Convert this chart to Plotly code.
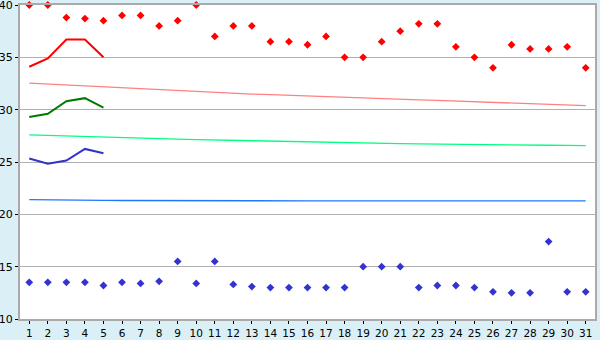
import plotly.graph_objects as go

days = list(range(1, 32))

record_high = [40, 40, 38.8, 38.7, 38.5, 39.0, 39.0, 38.0, 38.5, 40, 37.0, 38.0, 38.0, 36.5, 36.5, 36.2,
               37.0, 35.0, 35.0, 36.5, 37.5, 38.2, 38.2, 36.0, 35.0, 34.0, 36.2, 35.8, 35.8, 36.0, 34.0]
record_low = [13.5, 13.5, 13.5, 13.5, 13.2, 13.5, 13.4, 13.6, 15.5, 13.4, 15.5, 13.3, 13.1, 13.0, 13.0, 13.0,
              13.0, 13.0, 15.0, 15.0, 15.0, 13.0, 13.2, 13.2, 13.0, 12.6, 12.5, 12.5, 17.4, 12.6, 12.6]
normal_high = [32.54, 32.45, 32.35, 32.25, 32.16, 32.06, 31.97, 31.88, 31.79, 31.70, 31.62, 31.55, 31.49,
               31.43, 31.36, 31.30, 31.24, 31.18, 31.12, 31.06, 31.00, 30.94, 30.88, 30.82, 30.76, 30.70,
               30.64, 30.58, 30.52, 30.46, 30.38]
normal_mean = [27.59, 27.53, 27.47, 27.42, 27.37, 27.32, 27.27, 27.22, 27.18, 27.14, 27.10, 27.06, 27.02,
               26.98, 26.95, 26.91, 26.88, 26.85, 26.82, 26.79, 26.76, 26.74, 26.71, 26.69, 26.67, 26.65,
               26.63, 26.61, 26.60, 26.58, 26.57]
normal_low = [21.40, 21.40, 21.38, 21.35, 21.33, 21.32, 21.31, 21.31, 21.30, 21.30, 21.30, 21.30, 21.30,
              21.30, 21.30, 21.29, 21.29, 21.29, 21.29, 21.29, 21.29, 21.28, 21.28, 21.28, 21.28, 21.28,
              21.28, 21.28, 21.28, 21.28, 21.28]
cur_days = [1, 2, 3, 4, 5]
cur_high = [34.1, 34.9, 36.7, 36.7, 35.0]
cur_mean = [29.3, 29.6, 30.8, 31.1, 30.2]
cur_low = [25.33, 24.83, 25.14, 26.25, 25.84]

fig = go.Figure()
fig.add_trace(go.Scatter(x=days, y=normal_high, mode="lines", line=dict(color="#ff8080", width=1.3)))
fig.add_trace(go.Scatter(x=days, y=normal_mean, mode="lines", line=dict(color="#00ff80", width=1.3)))
fig.add_trace(go.Scatter(x=days, y=normal_low, mode="lines", line=dict(color="#1e78ff", width=1.3)))
fig.add_trace(go.Scatter(x=cur_days, y=cur_high, mode="lines", line=dict(color="#ff0000", width=2)))
fig.add_trace(go.Scatter(x=cur_days, y=cur_mean, mode="lines", line=dict(color="#007a00", width=2)))
fig.add_trace(go.Scatter(x=cur_days, y=cur_low, mode="lines", line=dict(color="#3333cc", width=2)))
fig.add_trace(go.Scatter(x=days, y=record_high, mode="markers", cliponaxis=False,
                         marker=dict(symbol="diamond", size=6, color="#ff0000")))
fig.add_trace(go.Scatter(x=days, y=record_low, mode="markers",
                         marker=dict(symbol="diamond", size=6, color="#3333d0")))

fig.update_layout(
    width=600, height=340,
    margin=dict(l=20, r=5, t=5, b=21),
    paper_bgcolor="#daeff6",
    plot_bgcolor="#ffffff",
    showlegend=False,
    font=dict(family="DejaVu Sans", size=11, color="#000000"),
)
fig.update_xaxes(
    range=[0.5, 31.5], tickmode="array", tickvals=days, ticktext=[str(d) for d in days],
    showgrid=False, zeroline=False, showline=True, linecolor="#aaaaaa", linewidth=2, mirror=True,
    ticks="outside", ticklen=3, tickcolor="#000000", tickwidth=1, automargin=False,
    ticklabeloverflow="allow", tickfont=dict(size=10.5),
)
fig.update_yaxes(
    range=[10, 40], tickmode="array", tickvals=[10, 15, 20, 25, 30, 35, 40],
    showgrid=True, gridcolor="#b0b0b0", gridwidth=1, zeroline=False,
    showline=True, linecolor="#aaaaaa", linewidth=2, mirror=True,
    ticks="outside", ticklen=3, tickcolor="#000000", tickwidth=1, automargin=False,
    ticklabeloverflow="allow",
)

fig.write_html("out.html")
